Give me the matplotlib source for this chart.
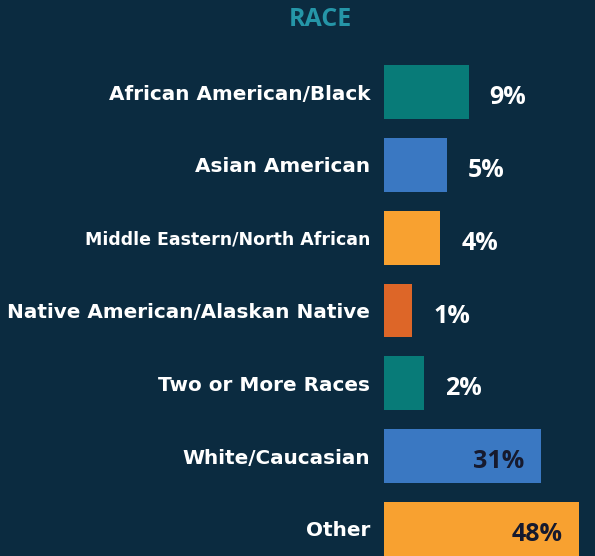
import numpy as np
import matplotlib
matplotlib.use("Agg")
from matplotlib import pyplot as plt

# data
categories = ["African American/Black", "Asian American", "Middle Eastern/North African",
              "Native American/Alaskan Native", "Two or More Races", "White/Caucasian", "Other"]
values = [9, 5, 4, 1, 2, 31, 48]
bar_colors = ["#087b78", "#3a78c2", "#f8a130", "#dd6628", "#087b78", "#3a78c2", "#f8a130"]

bg = "#0b2b40"
plt.rcParams['font.family'] = ['Open Sans', 'DejaVu Sans']

fig = plt.figure(figsize=(5.95, 5.56), dpi=100, facecolor=bg)
ax = fig.add_axes([384/595, 0, 211/595, 1])
ax.set_facecolor(bg)

y = np.arange(len(values))
ax.barh(y, values, height=0.74, color=bar_colors)

# bar lengths in the source follow a square-root scale
ax.set_xscale('function', functions=(np.sqrt, np.square))
ax.set_xlim(0, 56)
ax.set_ylim(6.371, -1.264)

ax.set_yticks(y, categories)
ax.tick_params(axis='y', length=0, pad=10, labelcolor='white')
for lab in ax.get_yticklabels():
    lab.set_fontfamily('DejaVu Sans')
    lab.set_fontweight('bold')
    lab.set_fontsize(14.4)
ax.get_yticklabels()[2].set_fontsize(12.5)
ax.set_xticks([])
for s in ax.spines.values():
    s.set_visible(False)

for i, v in enumerate(values):
    if v > 20:
        ax.annotate(f"{v}%", (v, i), xytext=(-12, -4), textcoords='offset points',
                    ha='right', va='center', color='#161a2e', fontsize=18, fontweight='bold')
    else:
        ax.annotate(f"{v}%", (v, i), xytext=(15, -4), textcoords='offset points',
                    ha='left', va='center', color='white', fontsize=18, fontweight='bold')

fig.text(320/595, 1 - 19/556, "RACE", ha='center', va='center', color='#2596a8',
         fontsize=18, fontweight='bold')

fig.savefig("out.png", dpi=100, facecolor=bg)
